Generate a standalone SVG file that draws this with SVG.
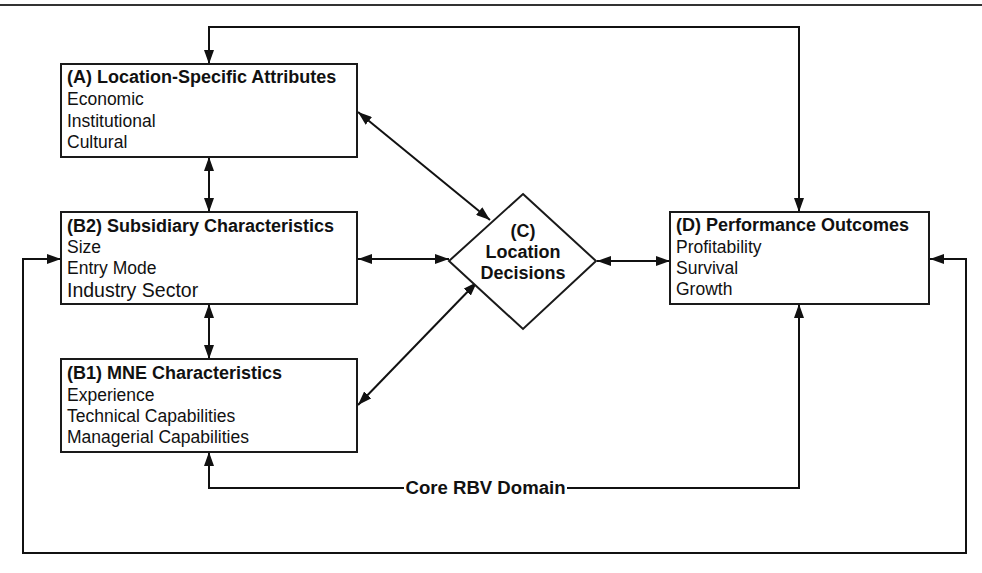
<svg xmlns="http://www.w3.org/2000/svg" width="982" height="573" viewBox="0 0 982 573">
<defs>
<marker id="ah" viewBox="0 0 14 10" refX="14" refY="5" markerUnits="userSpaceOnUse" markerWidth="14" markerHeight="10" orient="auto-start-reverse">
<path d="M0,0 L14,5 L0,10 z" fill="#111"/>
</marker>
<style>
.box{fill:#fff;stroke:#1a1a1a;stroke-width:2}
.t{font-family:"Liberation Sans",Arial,sans-serif;font-size:17.5px;fill:#111}
.b{font-weight:bold;font-size:18px}
.c{fill:none;stroke:#111;stroke-width:2;marker-start:url(#ah);marker-end:url(#ah)}
</style>
</defs>
<rect width="982" height="573" fill="#fff"/>
<line x1="0" y1="5" x2="982" y2="5" stroke="#333" stroke-width="2"/>
<g id="connectors">
<path class="c" d="M799,212 V27 H209 V64"/>
<path class="c" d="M209,157 V212"/>
<path class="c" d="M209,304 V359"/>
<path class="c" d="M358,112 L490,220"/>
<path class="c" d="M358,259 L449,259"/>
<path class="c" d="M358,405 L477,282"/>
<path class="c" d="M597,261 L670,261"/>
<path class="c" d="M209,452 V488 H799 V304"/>
<path class="c" d="M61,259 H23 V553 H966 V259 H930"/>
<rect x="404" y="478" width="163" height="20" fill="#fff"/>
<text class="t b" x="485.5" y="494" text-anchor="middle" textLength="160" lengthAdjust="spacingAndGlyphs">Core RBV Domain</text>
</g>
<g id="nodeA">
<rect class="box" x="61" y="64" width="296" height="93"/>
<text class="t" x="67" y="83"><tspan class="b">(A) Location-Specific Attributes</tspan><tspan x="67" y="105">Economic</tspan><tspan x="67" y="127">Institutional</tspan><tspan x="67" y="148">Cultural</tspan></text>
</g>
<g id="nodeB2">
<rect class="box" x="61" y="212" width="296" height="92"/>
<text class="t" x="67" y="232"><tspan class="b">(B2) Subsidiary Characteristics</tspan><tspan x="67" y="253">Size</tspan><tspan x="67" y="274">Entry Mode</tspan><tspan x="67" y="297" font-size="19.5">Industry Sector</tspan></text>
</g>
<g id="nodeB1">
<rect class="box" x="61" y="359" width="296" height="93"/>
<text class="t" x="67" y="379"><tspan class="b">(B1) MNE Characteristics</tspan><tspan x="67" y="401">Experience</tspan><tspan x="67" y="422">Technical Capabilities</tspan><tspan x="67" y="443">Managerial Capabilities</tspan></text>
</g>
<g id="nodeC">
<polygon class="box" points="523,194 596,261 523,329 449,261"/>
<text class="t b" x="523" y="237" text-anchor="middle">(C)<tspan x="523" y="258">Location</tspan><tspan x="523" y="279">Decisions</tspan></text>
</g>
<g id="nodeD">
<rect class="box" x="670" y="212" width="259" height="92"/>
<text class="t" x="676" y="231"><tspan class="b">(D) Performance Outcomes</tspan><tspan x="676" y="253">Profitability</tspan><tspan x="676" y="274">Survival</tspan><tspan x="676" y="295">Growth</tspan></text>
</g>
</svg>
